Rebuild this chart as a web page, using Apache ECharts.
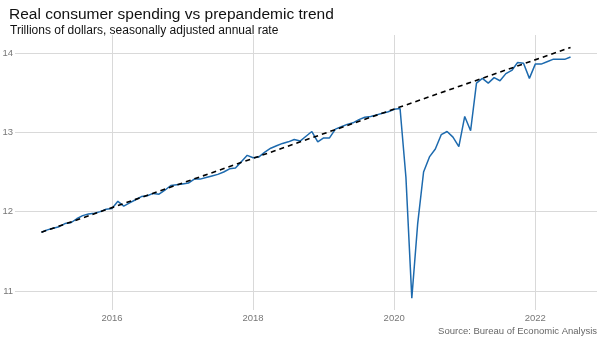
<!DOCTYPE html>
<html>
<head>
<meta charset="utf-8">
<script src="https://cdn.jsdelivr.net/npm/echarts@6/dist/echarts.min.js"></script>
<style>html,body{margin:0;padding:0;background:#fff}#c{width:600px;height:338px}</style>
</head>
<body>
<div id="c"></div>
<script>
// Monthly real consumer spending, trillions of dollars (SAAR), Jan 2015 – Jul 2022
var startYear = 2015;
var spending2015 = [11.74, 11.77, 11.79, 11.81, 11.85, 11.86, 11.91, 11.95, 11.97, 11.98, 12.00, 12.03];
var spending2016 = [12.04, 12.13, 12.07, 12.11, 12.15, 12.19, 12.20, 12.23, 12.22, 12.27, 12.33, 12.34];
var spending2017 = [12.35, 12.36, 12.41, 12.41, 12.43, 12.45, 12.47, 12.50, 12.54, 12.55, 12.63, 12.71];
var spending2018 = [12.68, 12.69, 12.75, 12.80, 12.83, 12.86, 12.88, 12.91, 12.89, 12.95, 13.01, 12.88];
var spending2019 = [12.93, 12.93, 13.04, 13.07, 13.10, 13.12, 13.16, 13.19, 13.20, 13.22, 13.24, 13.26];
var spending2020 = [13.29, 13.30, 12.43, 10.91, 11.85, 12.50, 12.69, 12.79, 12.97, 13.01, 12.94, 12.82];
var spending2021 = [13.20, 13.02, 13.62, 13.68, 13.62, 13.69, 13.65, 13.74, 13.78, 13.88, 13.87, 13.68];
var spending2022 = [13.86, 13.86, 13.89, 13.92, 13.92, 13.92, 13.95];

// Prepandemic trend line endpoints: [year, month, value]
var trendStart = [2015, 1, 11.74];
var trendEnd = [2022, 7, 14.07];

var xTicks = [2016, 2018, 2020, 2022];
var yTicks = [11, 12, 13, 14];

var titleText = 'Real consumer spending vs prepandemic trend';
var subtitleText = 'Trillions of dollars, seasonally adjusted annual rate';
var sourceText = 'Source: Bureau of Economic Analysis';

function ym(y, m) { return y + (m - 1) / 12; }

var allYears = [spending2015, spending2016, spending2017, spending2018, spending2019, spending2020, spending2021, spending2022];
var lineData = [];
allYears.forEach(function (arr, yi) {
  arr.forEach(function (v, mi) {
    lineData.push([ym(startYear + yi, mi + 1), v]);
  });
});
var trendData = [
  [ym(trendStart[0], trendStart[1]), trendStart[2]],
  [ym(trendEnd[0], trendEnd[1]), trendEnd[2]]
];

var chart = echarts.init(document.getElementById('c'), null, {renderer: 'canvas'});
var FONT = '"Liberation Sans", Arial, sans-serif';
chart.setOption({
  animation: false,
  textStyle: {fontFamily: FONT},
  title: [
    {text: titleText, left: 4, top: 2, textStyle: {fontSize: 15.5, fontWeight: 'normal', color: '#111', fontFamily: FONT}},
    {text: subtitleText, left: 5, top: 20, textStyle: {fontSize: 12, fontWeight: 'normal', color: '#111', fontFamily: FONT}},
    {text: sourceText, right: 3, top: 326.5, padding: 0, textStyle: {fontSize: 9.5, fontWeight: 'normal', color: '#666', fontFamily: FONT}}
  ],
  grid: {left: 15, right: 3, top: 35, bottom: 28, outerBoundsMode: 'none'},
  xAxis: {
    type: 'value',
    min: 2014.625,
    max: 2022.875,
    axisLine: {show: false},
    axisTick: {show: false, customValues: xTicks},
    axisLabel: {customValues: xTicks, color: '#777', fontSize: 9.5, margin: 3, fontFamily: FONT, formatter: function (v) { return String(Math.round(v)); }},
    splitLine: {show: true, lineStyle: {color: '#d9d9d9', width: 1}}
  },
  yAxis: {
    type: 'value',
    min: 10.76,
    max: 14.227,
    axisLine: {show: false},
    axisTick: {show: false, customValues: yTicks},
    axisLabel: {customValues: yTicks, color: '#777', fontSize: 9.5, margin: 2, fontFamily: FONT, formatter: function (v) { return String(Math.round(v)); }},
    splitLine: {show: true, lineStyle: {color: '#d9d9d9', width: 1}}
  },
  series: [
    {
      name: 'Real consumer spending',
      type: 'line',
      data: lineData,
      symbol: 'none',
      lineStyle: {color: '#1d6aae', width: 1.5},
      z: 2
    },
    {
      name: 'Prepandemic trend',
      type: 'line',
      data: trendData,
      symbol: 'none',
      lineStyle: {color: '#000', width: 1.6, type: [5, 4]},
      z: 3
    }
  ]
});
</script>
</body>
</html>
